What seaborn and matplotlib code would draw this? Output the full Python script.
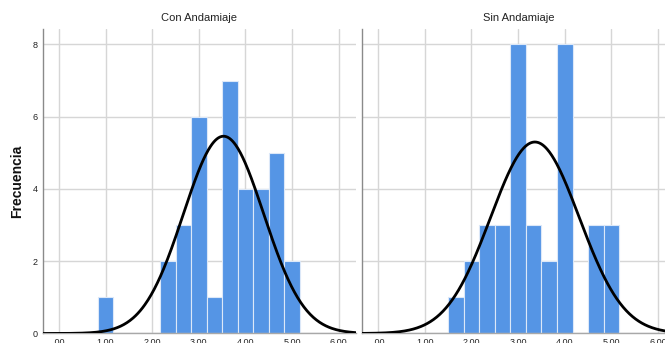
import numpy as np
import pandas as pd
import matplotlib
matplotlib.use("Agg")
import matplotlib.pyplot as plt
import seaborn as sns

# Histogram bin centres (scores in steps of 1/3) and counts per group
con_centers = [1.00, 2.333, 2.667, 3.00, 3.333, 3.667, 4.00, 4.333, 4.667, 5.00]
con_counts = [1, 2, 3, 6, 1, 7, 4, 4, 5, 2]

sin_centers = [1.667, 2.00, 2.333, 2.667, 3.00, 3.333, 3.667, 4.00, 4.667, 5.00]
sin_counts = [1, 2, 3, 3, 8, 3, 2, 8, 3, 3]

# Fitted normal curve parameters (mean, sd, peak frequency)
con_curve = (3.53, 0.86, 5.46)
sin_curve = (3.36, 0.95, 5.30)

group_titles = ["Con Andamiaje", "Sin Andamiaje"]
x_ticks = [0, 1, 2, 3, 4, 5, 6]
x_tick_labels = [".00", "1.00", "2.00", "3.00", "4.00", "5.00", "6.00"]
y_ticks = [0, 2, 4, 6, 8]

sns.set_theme(style="white")
plt.rcParams["font.family"] = ["Liberation Sans", "DejaVu Sans"]

bar_color = "#5595E5"
grid_color = "#d6d6d6"

frames = []
for name, centers, counts in [(group_titles[0], con_centers, con_counts),
                              (group_titles[1], sin_centers, sin_counts)]:
    vals = np.repeat(centers, counts)
    frames.append(pd.DataFrame({"grupo": name, "puntaje": vals}))
data = pd.concat(frames, ignore_index=True)

bw = 1.0 / 3.0
edges = np.arange(0, 20) * bw - bw / 2 + 1e-6

fig = plt.figure(figsize=(6.65, 3.43), dpi=100)
ax_w = 0.470
ax_h = 0.888
ax_b = 0.0277
axes = [fig.add_axes([0.0647, ax_b, ax_w, ax_h]),
        fig.add_axes([0.5448, ax_b, ax_w, ax_h])]

xlim = (-0.34, 6.36)
ylim = (0, 8.43)

for i, (ax, title, curve) in enumerate(zip(axes, group_titles, [con_curve, sin_curve])):
    sub = data[data["grupo"] == title]
    sns.histplot(data=sub, x="puntaje", bins=edges, stat="count",
                 color=bar_color, alpha=1.0, edgecolor="#dce8f8",
                 linewidth=0.8, ax=ax, zorder=2)
    mu, sd, peak = curve
    xs = np.linspace(xlim[0], xlim[1], 400)
    ys = peak * np.exp(-0.5 * ((xs - mu) / sd) ** 2)
    sns.lineplot(x=xs, y=ys, color="black", linewidth=2.0, ax=ax, zorder=3)

    ax.set_xlim(*xlim)
    ax.set_ylim(*ylim)
    ax.set_xticks(x_ticks)
    ax.set_xticklabels(x_tick_labels)
    ax.set_yticks(y_ticks)
    ax.grid(True, color=grid_color, linewidth=1.0, zorder=0)
    ax.set_axisbelow(True)
    ax.tick_params(axis="both", length=0, labelsize=6.5, colors="#222222")
    ax.tick_params(axis="x", pad=3)
    ax.tick_params(axis="y", pad=4)
    for side in ["top", "right"]:
        ax.spines[side].set_visible(False)
    ax.spines["left"].set_color("#8a8a8a")
    ax.spines["left"].set_linewidth(1.0)
    ax.spines["bottom"].set_color("#a8a8a8")
    ax.spines["bottom"].set_linewidth(1.0)
    ax.set_xlabel("")
    ax.set_ylabel("")
    ax.set_title(title, fontsize=8, color="#222222", pad=6)
    if i == 1:
        ax.set_yticklabels([])

axes[0].set_ylabel("Frecuencia", fontsize=10, fontweight="bold",
                   color="#111111", va="center")
axes[0].yaxis.set_label_coords(-0.083, 0.5)

fig.savefig("out.png", dpi=100)
